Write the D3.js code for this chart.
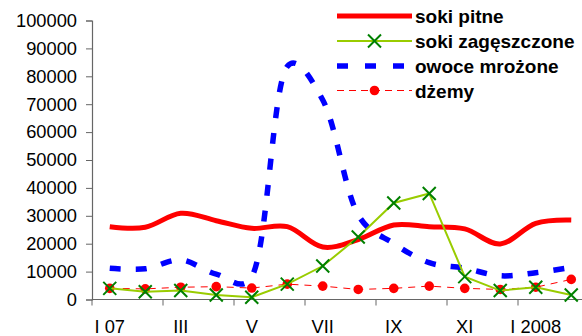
<!DOCTYPE html>
<html><head><meta charset="utf-8">
<script src="https://cdn.jsdelivr.net/npm/d3@7"></script>
<style>body{margin:0;background:#fff}svg{display:block;font-family:"Liberation Sans",Arial,sans-serif}</style>
</head><body><svg width="582" height="336"></svg>
<script>
const months = ["I 07","II","III","IV","V","VI","VII","VIII","IX","X","XI","XII","I 2008","II 08"];
const tickLabels = ["I 07","III","V","VII","IX","XI","I 2008"];
const yTicks = [0,10000,20000,30000,40000,50000,60000,70000,80000,90000,100000];
const sokiPitne = [26100,25900,30900,28250,25500,26100,18800,21500,26700,26100,25300,19900,27300,28500];
const sokiZageszczone = [4000,2800,3200,1600,800,5500,12000,22400,34600,38000,8200,3200,4400,1600];
const owoceMrozone = [11200,11000,14200,9100,8200,83500,71500,30300,20100,13200,11200,8500,9600,11500];
const dzemy = [4000,3800,4400,4600,4100,5500,4800,3600,4000,4800,4000,3600,4400,7200];
const seriesNames = ["soki pitne","soki zagęszczone","owoce mrożone","dżemy"];

const svg = d3.select("svg");
const x = d3.scaleBand().domain(months).range([92, 92 + 14*35.5]);
const y = d3.scaleLinear().domain([0,100000]).range([299.5, 20.5]);
const cx = d => x(d) + x.bandwidth()/2;

// y axis
const yAxis = svg.append("g").attr("transform","translate(92,0)")
  .call(d3.axisLeft(y).tickValues(yTicks).tickSize(6).tickPadding(9).tickFormat(d3.format("d")));
yAxis.select(".domain").attr("stroke","#666").attr("stroke-width",1.2);
yAxis.selectAll(".tick line").attr("stroke","#666");
yAxis.selectAll("text").attr("font-size",18.3).attr("fill","#000").attr("font-family","Liberation Sans, Arial, sans-serif");

// x axis
const xa = svg.append("g").attr("transform","translate(0,299.5)");
xa.append("line").attr("x1",92).attr("x2",582).attr("stroke","#666").attr("stroke-width",1.2);
months.forEach((m,i)=>{ if(i%2===0){ xa.append("line").attr("x1",x(m)).attr("x2",x(m)).attr("y1",0).attr("y2",6).attr("stroke","#666"); }});
tickLabels.forEach((t,i)=>{
  const m = months[i*2];
  xa.append("text").attr("x",cx(m)).attr("y",33.5).attr("text-anchor","middle")
    .attr("font-size",18.3).attr("fill","#000").text(t);
});

const smooth = d3.line().x((d,i)=>cx(months[i])).y(d=>y(d)).curve(d3.curveCatmullRom.alpha(0.25));
const straight = d3.line().x((d,i)=>cx(months[i])).y(d=>y(d));

// soki pitne
svg.append("path").attr("d",smooth(sokiPitne)).attr("fill","none").attr("stroke","#ff0000").attr("stroke-width",5);
// owoce mrozone
svg.append("path").attr("d",smooth(owoceMrozone)).attr("fill","none").attr("stroke","#0000ff").attr("stroke-width",5.5).attr("stroke-dasharray","11,15");
// dzemy
svg.append("path").attr("d",straight(dzemy)).attr("fill","none").attr("stroke","#ff0000").attr("stroke-width",1).attr("stroke-dasharray","7,6");
svg.append("g").selectAll("circle").data(dzemy).join("circle")
  .attr("cx",(d,i)=>cx(months[i])).attr("cy",d=>y(d)).attr("r",4.8).attr("fill","#ff0000");
// soki zageszczone
svg.append("path").attr("d",straight(sokiZageszczone)).attr("fill","none").attr("stroke","#99cc00").attr("stroke-width",2);
function cross(g, px, py, s){
  g.append("path").attr("d",`M${px-s},${py-s}L${px+s},${py+s}M${px-s},${py+s}L${px+s},${py-s}`)
   .attr("stroke","#008000").attr("stroke-width",2).attr("fill","none");
}
const cg = svg.append("g");
sokiZageszczone.forEach((d,i)=>cross(cg, cx(months[i]), y(d), 6.5));

// legend
const lg = svg.append("g");
const rows = [16, 41, 66, 90.5];
const lx1 = 337, lx2 = 412, tx = 415;
lg.append("line").attr("x1",lx1).attr("x2",lx2).attr("y1",rows[0]).attr("y2",rows[0]).attr("stroke","#ff0000").attr("stroke-width",5);
lg.append("line").attr("x1",lx1).attr("x2",lx2).attr("y1",rows[1]).attr("y2",rows[1]).attr("stroke","#99cc00").attr("stroke-width",2);
cross(lg,(lx1+lx2)/2,rows[1],6.5);
lg.append("line").attr("x1",lx1).attr("x2",lx2).attr("y1",rows[2]).attr("y2",rows[2]).attr("stroke","#0000ff").attr("stroke-width",5.5).attr("stroke-dasharray","11,17");
lg.append("line").attr("x1",lx1).attr("x2",lx2).attr("y1",rows[3]).attr("y2",rows[3]).attr("stroke","#ff0000").attr("stroke-width",1).attr("stroke-dasharray","7,5");
lg.append("circle").attr("cx",(lx1+lx2)/2).attr("cy",rows[3]).attr("r",4.8).attr("fill","#ff0000");
seriesNames.forEach((n,i)=>{
  lg.append("text").attr("x",tx).attr("y",rows[i]+7).attr("font-size",19).attr("font-weight","bold").attr("fill","#000").text(n);
});
</script></body></html>
